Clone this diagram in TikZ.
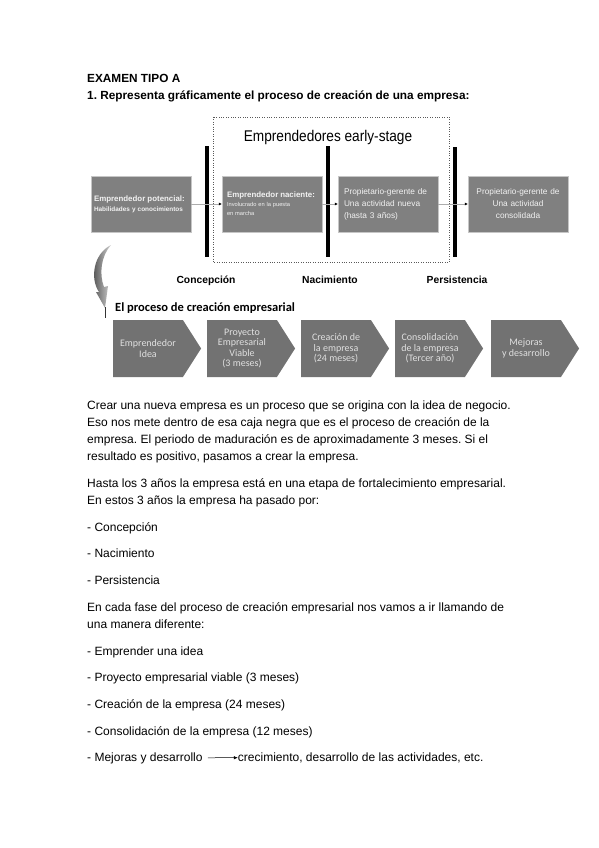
\documentclass[tikz,border=0pt]{standalone}
\usepackage{fontspec}
\setmainfont{Liberation Sans}
\newfontfamily\calibri{Carlito}
\usetikzlibrary{arrows.meta,positioning,shapes.symbols,shadows}
\frenchspacing

\definecolor{boxgray}{RGB}{128,128,128}
\definecolor{chevgray}{RGB}{114,114,114}
\definecolor{boxtext}{RGB}{242,242,242}
\definecolor{chevtext}{RGB}{224,224,224}

\begin{document}
\begin{tikzpicture}[
  x=1pt,y=-1pt,
  >=Latex,
  txt/.style={anchor=base west,inner sep=0pt,align=left,font=\fontsize{12}{17}\selectfont},
  head/.style={anchor=base west,inner sep=0pt,font=\fontsize{11.8}{17}\selectfont\bfseries},
  stage/.style={draw=gray!45,fill=boxgray,minimum width=100pt,minimum height=56pt,inner sep=0pt,text=boxtext,
    drop shadow={shadow xshift=1.2pt,shadow yshift=-1.2pt,fill=black!75,opacity=1}},
  phase/.style={anchor=base,inner sep=0pt,font=\fontsize{10.3}{12}\selectfont\bfseries},
  bar/.style={line width=3.6pt},
  flow/.style={draw=gray!65,line width=0.7pt,-{Latex[length=3pt,width=3pt,black]}},
  chev/.style={signal,signal to=east,signal pointer angle=115,fill=chevgray,minimum width=88pt,minimum height=57pt,
    inner sep=0pt,align=center,text=chevtext,font=\calibri\fontsize{10}{10.5}\selectfont},
]
\fill[white] (0,0) rectangle (599,848);
\useasboundingbox (0,0) rectangle (599,848);

% ---------- heading ----------
\node[head] (title) at (87,83) {EXAMEN TIPO A};
\node[head] (task) at (87,100) {1. Representa gráficamente el proceso de creación de una empresa:};

% ---------- early-stage frame ----------
\draw[dotted,gray!70!black] (213,117) rectangle (449,262);
\node[anchor=base,inner sep=0pt,font=\fontsize{15.5}{18}\selectfont] (early) at (328,141)
  {\scalebox{0.88}[1]{Emprendedores early-stage}};

\draw[bar] (207,146) -- (207,257);
\draw[bar] (328,146) -- (328,257);
\draw[bar] (455,147) -- (455,257);

% ---------- stages ----------
\node[stage,text width=94pt,align=left,font=\fontsize{6.4}{10}\selectfont] (b1) at (141,204)
  {{\fontsize{7.9}{10}\selectfont\bfseries Emprendedor potencial:}\\\textbf{Habilidades y conocimientos}};
\node[stage,text width=90pt,align=left,font=\fontsize{5.7}{9}\selectfont] (b2) at (272,204)
  {{\fontsize{7.9}{10}\selectfont\bfseries Emprendedor naciente:}\\Involucrado en la puesta\\en marcha};
\node[stage,text width=88pt,align=left,font=\fontsize{8.3}{12}\selectfont] (b3) at (388,204)
  {Propietario-gerente de\\Una actividad nueva\\(hasta 3 años)};
\node[stage,text width=92pt,align=center,font=\fontsize{8.3}{12}\selectfont] (b4) at (518,204)
  {Propietario-gerente de\\Una actividad\\consolidada};

\draw[flow] (b1) -- (b2);
\draw[flow] (b2) -- (b3);
\draw[flow] (b3) -- (b4);

\node[phase] (conc) at (206,283) {Concepción};
\node[phase] (naci) at (330,283) {Nacimiento};
\node[phase] (pers) at (457,283) {Persistencia};

% ---------- curved arrow ----------
\shade[left color=black!75,right color=gray!35]
  (111,245) .. controls (101,256) and (99,274) .. (104,287)
  -- (108,286) -- (105,308) -- (96,292) -- (99,292)
  .. controls (90,279) and (93,254) .. (111,245) -- cycle;
\draw[gray!40!black,line width=0.6pt] (105,307) -- (105,318);

% ---------- proceso de creacion ----------
\node[anchor=base west,inner sep=0pt,font=\calibri\fontsize{12.5}{14}\selectfont\bfseries] (proc) at (115,311)
  {El proceso de creación empresarial};

\node[chev] (c1) at (148,348.5) {Emprendedor\\Idea};
\node[chev] (c2) at (242,348.5) {Proyecto\\Empresarial\\Viable\\(3 meses)};
\node[chev] (c3) at (336,348.5) {Creación de\\la empresa\\(24 meses)};
\node[chev] (c4) at (430,348.5) {Consolidación\\de la empresa\\(Tercer año)};
\node[chev] (c5) at (526,348.5) {Mejoras\\y desarrollo};

% ---------- text ----------
\node[txt] (p1) at (87,460) {Crear una nueva empresa es un proceso que se origina con la idea de negocio.\\
  Eso nos mete dentro de esa caja negra que es el proceso de creación de la\\
  empresa. El periodo de maduración es de aproximadamente 3 meses. Si el\\
  resultado es positivo, pasamos a crear la empresa.};
\node[txt] (p2) at (87,504) {Hasta los 3 años la empresa está en una etapa de fortalecimiento empresarial.\\
  En estos 3 años la empresa ha pasado por:};
\node[txt] (l1) at (87,531) {- Concepción};
\node[txt] (l2) at (87,557) {- Nacimiento};
\node[txt] (l3) at (87,584) {- Persistencia};
\node[txt] (p3) at (87,628) {En cada fase del proceso de creación empresarial nos vamos a ir llamando de\\
  una manera diferente:};
\node[txt] (i1) at (87,655) {- Emprender una idea};
\node[txt] (i2) at (87,681) {- Proyecto empresarial viable (3 meses)};
\node[txt] (i3) at (87,708) {- Creación de la empresa (24 meses)};
\node[txt] (i4) at (87,735) {- Consolidación de la empresa (12 meses)};
\node[txt] (i5) at (87,761) {- Mejoras y desarrollo};
\node[txt,base right=35pt of i5] (i6) {crecimiento, desarrollo de las actividades, etc.};
\draw[-{Latex[length=4pt,width=3.5pt]},line width=0.5pt,shorten <=5pt] (i5) -- (i6);

\end{tikzpicture}
\end{document}
